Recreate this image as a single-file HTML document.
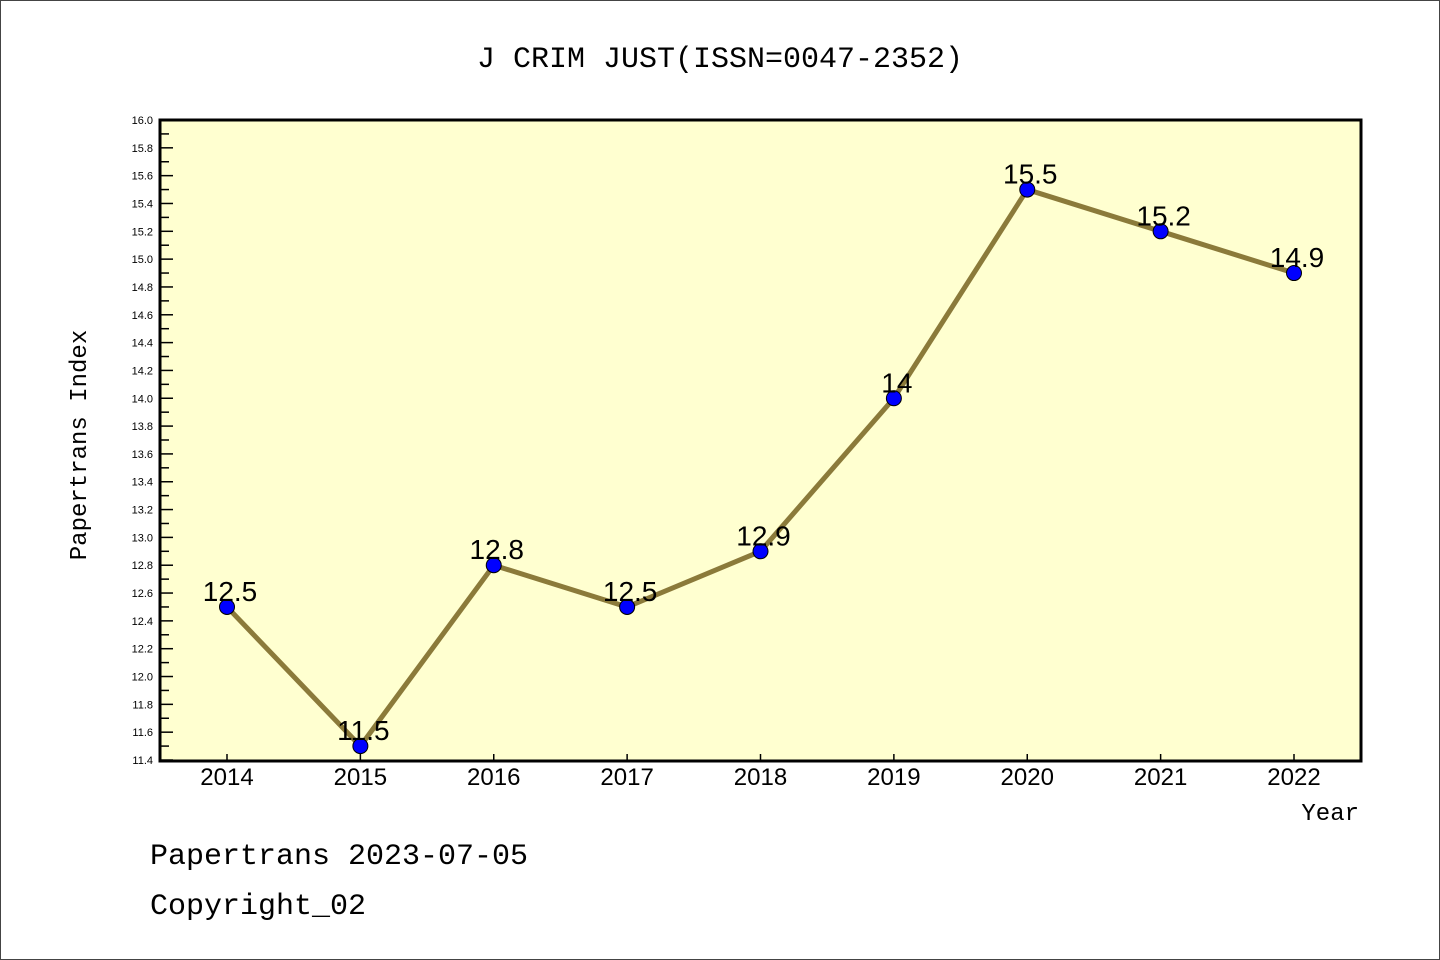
<!DOCTYPE html>
<html><head><meta charset="utf-8"><style>
body{margin:0;background:#fff}
svg{display:block;font-family:"Liberation Sans","DejaVu Sans",sans-serif}
.mono{font-family:"Liberation Mono","DejaVu Sans Mono",monospace}
</style></head><body>
<svg id="chart" width="1440" height="960" viewBox="0 0 1440 960">
<rect x="0.5" y="0.5" width="1439" height="959" fill="#fff" stroke="#444"/>
<text x="720" y="67" text-anchor="middle" font-size="30" class="mono">J CRIM JUST(ISSN=0047-2352)</text>
<rect x="160" y="120" width="1201" height="641" fill="#ffffd0"/>
<g id="yaxis"></g>
<g id="xaxis"></g>
<g id="series"></g>
<rect x="160" y="120" width="1201" height="641" fill="none" stroke="#000" stroke-width="3"/>
<text x="86" y="445" transform="rotate(-90 86 445)" text-anchor="middle" font-size="24" class="mono">Papertrans Index</text>
<text x="1359" y="820" text-anchor="end" font-size="24" class="mono">Year</text>
<text x="150" y="864" font-size="30" class="mono">Papertrans 2023-07-05</text>
<text x="150" y="914" font-size="30" class="mono">Copyright_02</text>
</svg>
<script>
const years = [2014,2015,2016,2017,2018,2019,2020,2021,2022];
const values = [12.5,11.5,12.8,12.5,12.9,14,15.5,15.2,14.9];
const valueLabels = ["12.5","11.5","12.8","12.5","12.9","14","15.5","15.2","14.9"];
const yMin = 11.4, yMax = 16.0;
const NS = "http://www.w3.org/2000/svg";
const X0=160, X1=1361, Y0=120, Y1=760;
function xs(i){return 227 + i*(1294-227)/(years.length-1);}
function ys(v){return Y1 - (v-yMin)/(yMax-yMin)*(Y1-Y0);}
function mk(tag, attrs, parent){const e=document.createElementNS(NS,tag);for(const k in attrs)e.setAttribute(k,attrs[k]);parent.appendChild(e);return e;}
const yg=document.getElementById('yaxis'), xg=document.getElementById('xaxis'), sg=document.getElementById('series');
const nSteps=Math.round((yMax-yMin)/0.1);
for(let k=0;k<=nSteps;k++){
  const v=yMin+k*0.1, y=ys(v), major=(k%2===0);
  const t=mk('line',{x1:X0,x2:X0+(major?13:9),y1:y,y2:y,stroke:'#000','stroke-width':1.5},yg);
  
  
  if(major){
    const l=mk('text',{x:X0-7,y:y+4,'text-anchor':'end','font-size':11},yg);
    l.textContent=v.toFixed(1);
    
    
  }
}
years.forEach((yr,i)=>{
  const x=xs(i);
  const t=mk('line',{x1:x,x2:x,y1:Y1,y2:Y1-6,stroke:'#000','stroke-width':1.5},xg);
  
  
  const l=mk('text',{x:x,y:785,'text-anchor':'middle','font-size':24},xg);
  l.textContent=yr;
  
  
});
const pts=values.map((v,i)=>xs(i)+','+ys(v)).join(' ');
const pl=mk('polyline',{points:pts,fill:'none',stroke:'#8b7a3a','stroke-width':5,'stroke-linejoin':'round'},sg);


values.forEach((v,i)=>{
  const c=mk('circle',{cx:xs(i),cy:ys(v),r:7.5,fill:'#0000ff',stroke:'#000','stroke-width':1},sg);
  
  
  const l=mk('text',{x:xs(i)+3,y:ys(v)-6,'text-anchor':'middle','font-size':28},sg);
  l.textContent=valueLabels[i];
  
  
});
</script>
</body></html>
